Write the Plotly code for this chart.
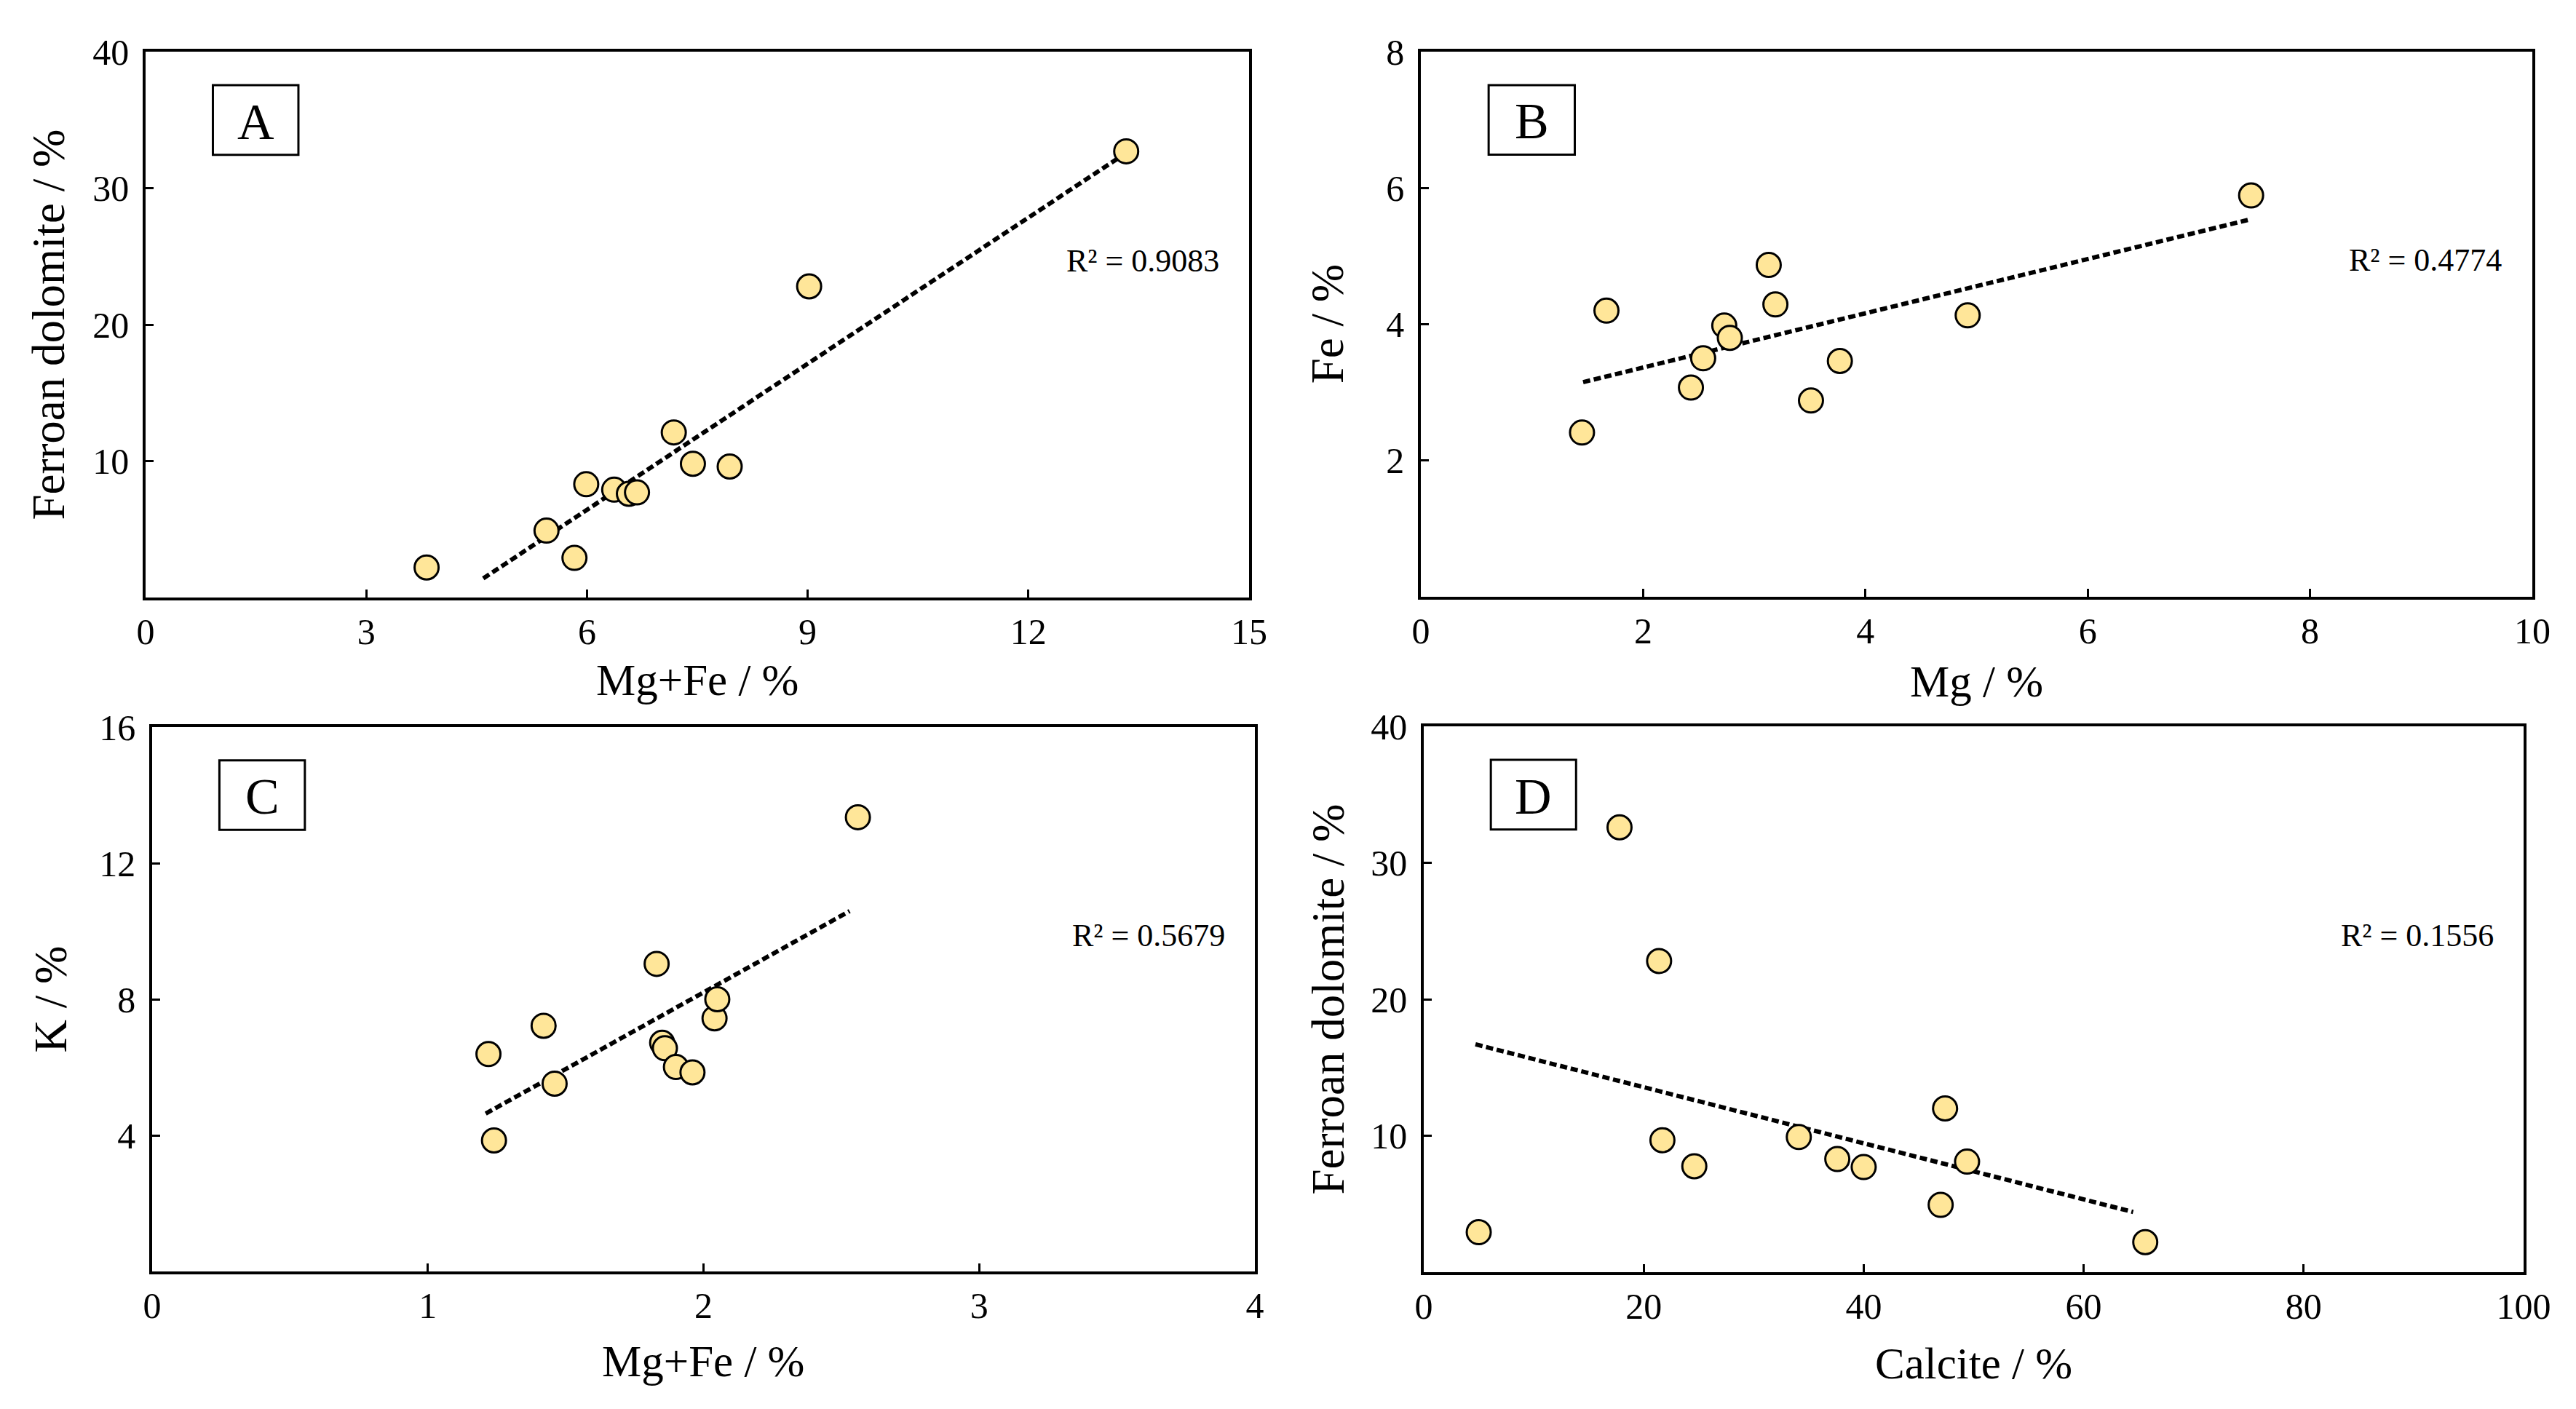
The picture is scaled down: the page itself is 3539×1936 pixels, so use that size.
import plotly.graph_objects as go

# ---- data ----
# A: Mg+Fe vs ferroan dolomite
a_x = [3.82, 5.83, 5.45, 5.99, 6.37, 6.57, 6.68, 7.18, 7.44, 7.94, 9.02, 13.33]
a_y = [2.2, 2.9, 4.9, 8.3, 7.9, 7.6, 7.7, 12.1, 9.8, 9.6, 22.8, 32.7]
a_trend_x = [4.59, 13.25]
a_trend_y = [1.4, 32.3]

# B: Mg vs Fe
b_x = [1.45, 1.67, 2.43, 2.54, 2.73, 2.78, 3.13, 3.19, 3.51, 3.77, 4.92, 7.47]
b_y = [2.41, 4.2, 3.07, 3.5, 3.98, 3.8, 4.87, 4.29, 2.88, 3.46, 4.13, 5.89]
b_trend_x = [1.46, 7.44]
b_trend_y = [3.15, 5.53]

# C: Mg+Fe vs K
c_x = [1.22, 1.24, 1.42, 1.46, 1.83, 1.85, 1.86, 1.90, 1.96, 2.04, 2.05, 2.56]
c_y = [6.39, 3.85, 7.22, 5.52, 9.04, 6.72, 6.56, 6.01, 5.85, 7.44, 8.0, 13.35]
c_trend_x = [1.21, 2.53]
c_trend_y = [4.64, 10.59]

# D: calcite vs ferroan dolomite
d_x = [5.0, 17.8, 21.4, 21.7, 24.6, 34.1, 37.6, 40.0, 47.0, 47.4, 49.4, 65.6]
d_y = [2.93, 32.6, 22.8, 9.67, 7.76, 9.9, 8.29, 7.7, 4.93, 12.0, 8.1, 2.2]
d_trend_x = [4.7, 64.5]
d_trend_y = [16.7, 4.41]

labels = ["A", "B", "C", "D"]
r2_text = ["R² = 0.9083", "R² = 0.4774", "R² = 0.5679", "R² = 0.1556"]
x_titles = ["Mg+Fe / %", "Mg / %", "Mg+Fe / %", "Calcite / %"]
y_titles = ["Ferroan dolomite / %", "Fe / %", "K / %", "Ferroan dolomite / %"]
x_ticks = [[0, 3, 6, 9, 12, 15], [0, 2, 4, 6, 8, 10], [0, 1, 2, 3, 4], [0, 20, 40, 60, 80, 100]]
y_ticks = [[10, 20, 30, 40], [2, 4, 6, 8], [4, 8, 12, 16], [10, 20, 30, 40]]

W, H = 3539, 1936
FONT = "Liberation Serif, Times New Roman, serif"
# page offset taken off so the panels land where the reference has them
SHIFT_X, SHIFT_Y = 4, 8

# pixel boxes of the four plot areas (left, right, top, bottom)
boxes = [(196, 1712, 71, 821), (1948, 3475, 71, 820),
         (205, 1720, 999, 1747), (1952, 3463, 998, 1748)]
ytitle_off = [-0.088, -0.084, -0.092, -0.087]
xtitle_off = [-0.152, -0.155, -0.165, -0.168]

panels = [(a_x, a_y, a_trend_x, a_trend_y), (b_x, b_y, b_trend_x, b_trend_y),
          (c_x, c_y, c_trend_x, c_trend_y), (d_x, d_y, d_trend_x, d_trend_y)]

fig = go.Figure()
shapes = []
annotations = []

for i, (px, py, tx, ty) in enumerate(panels):
    n = "" if i == 0 else str(i + 1)
    xa, ya = "x" + n, "y" + n
    fig.add_trace(go.Scatter(x=tx, y=ty, mode="lines", xaxis=xa, yaxis=ya,
                             line=dict(color="black", width=6, dash="10px,5px"),
                             showlegend=False))
    fig.add_trace(go.Scatter(x=px, y=py, mode="markers", xaxis=xa, yaxis=ya,
                             marker=dict(size=33, color="#FFE699",
                                         line=dict(color="black", width=3)),
                             showlegend=False))

    l, r, t, b = boxes[i]
    l, r = l - SHIFT_X, r - SHIFT_X
    t, b = t - SHIFT_Y, b - SHIFT_Y
    axis_common = dict(showgrid=False, zeroline=False, showline=True, linecolor="black",
                       linewidth=3.5, mirror=True, ticks="inside", ticklen=11, tickwidth=3,
                       tickcolor="black", automargin=False,
                       tickfont=dict(family=FONT, size=50, color="black"))
    fig.update_layout(**{
        "xaxis" + n: dict(domain=[l / W, r / W], anchor=ya, range=[x_ticks[i][0], x_ticks[i][-1]],
                          tickvals=x_ticks[i], ticklabelstandoff=0, **axis_common),
        "yaxis" + n: dict(domain=[1 - b / H, 1 - t / H], anchor=xa, range=[0, y_ticks[i][-1]],
                          tickvals=y_ticks[i], ticklabelstandoff=9, **axis_common),
    })

    # panel letter in a box
    shapes.append(dict(type="rect", xref=xa + " domain", yref=ya + " domain",
                       x0=0.061, x1=0.1385, y0=0.811, y1=0.9387,
                       line=dict(color="black", width=3), fillcolor="white"))
    annotations.append(dict(text=labels[i], xref=xa + " domain", yref=ya + " domain",
                            x=0.0998, y=0.872, xanchor="center", yanchor="middle",
                            showarrow=False, font=dict(family=FONT, size=70, color="black")))
    # R squared
    annotations.append(dict(text=r2_text[i], xref=xa + " domain", yref=ya + " domain",
                            x=0.974, y=0.617, xanchor="right", yanchor="middle",
                            showarrow=False, font=dict(family=FONT, size=44, color="black")))
    # axis titles
    annotations.append(dict(text=x_titles[i], xref=xa + " domain", yref=ya + " domain",
                            x=0.5, y=xtitle_off[i], xanchor="center", yanchor="middle",
                            showarrow=False, font=dict(family=FONT, size=61, color="black")))
    annotations.append(dict(text=y_titles[i], xref=xa + " domain", yref=ya + " domain",
                            x=ytitle_off[i], y=0.5, xanchor="center", yanchor="middle",
                            textangle=-90, showarrow=False,
                            font=dict(family=FONT, size=63, color="black")))

fig.update_layout(width=W, height=H, margin=dict(l=0, r=0, t=0, b=0),
                  paper_bgcolor="white", plot_bgcolor="white",
                  shapes=shapes, annotations=annotations)

fig.write_html("out.html")
